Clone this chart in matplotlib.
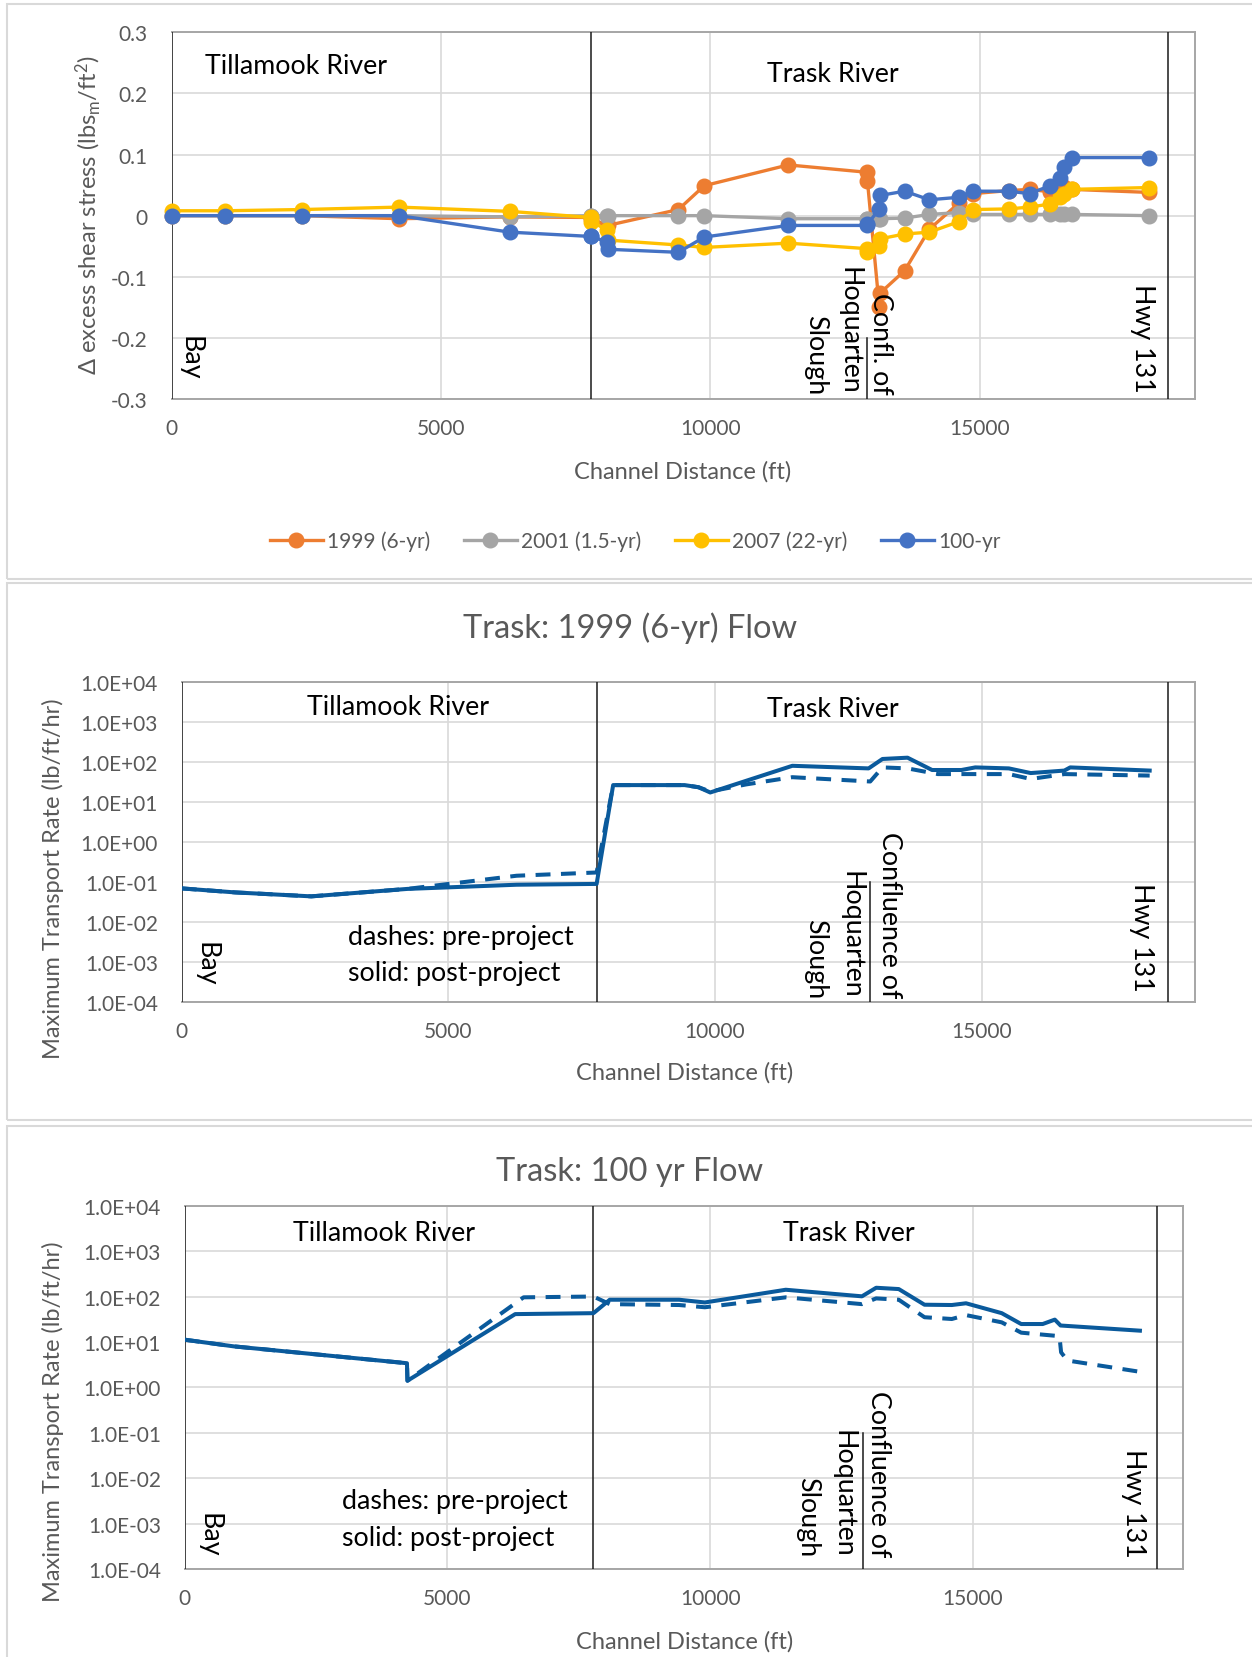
import matplotlib
matplotlib.use('Agg')
import matplotlib.pyplot as plt
from matplotlib.patches import Rectangle
import numpy as np

FONT = ['Lato', 'DejaVu Sans']
plt.rcParams['font.family'] = FONT
plt.rcParams['mathtext.fontset'] = 'custom'
plt.rcParams['mathtext.rm'] = 'Lato'
plt.rcParams['mathtext.it'] = 'Lato:italic'
plt.rcParams['mathtext.default'] = 'regular'

# ---------------- data ----------------
x_ticks = [0, 5000, 10000, 15000]
x_tick_labels = ['0', '5000', '10000', '15000']
x_max = 19000
x_bay = 0
x_div = 7780          # Tillamook / Trask boundary
x_confl = 12910       # confluence of Hoquarten Slough
x_hwy = 18500         # Hwy 131

# Panel 1: change in excess shear stress
p1_x = [0, 1000, 2430, 4230, 6280, 7780, 7790, 8090, 8100, 9410, 9890, 11450, 12910, 12920,
        13140, 13150, 13610, 14070, 14610, 14880, 15540, 15930, 16310, 16490, 16570, 16710, 18150]
p1_1999 = [0, 0, 0, -0.005, -0.002, -0.003, -0.005, -0.016, -0.016, 0.010, 0.049, 0.083, 0.071, 0.056,
           -0.150, -0.127, -0.090, -0.022, 0.020, 0.036, 0.041, 0.043, 0.039, 0.045, 0.047, 0.043, 0.038]
p1_2001 = [0, 0, 0, 0, -0.002, 0, 0, 0, 0, 0, 0, -0.005, -0.005, -0.005,
           -0.005, -0.005, -0.004, 0.002, 0.005, 0.002, 0.002, 0.002, 0.002, 0.002, 0.002, 0.002, 0]
p1_2007 = [0.008, 0.008, 0.010, 0.014, 0.007, -0.003, -0.010, -0.023, -0.040, -0.048, -0.052, -0.045, -0.054, -0.060,
           -0.049, -0.038, -0.030, -0.027, -0.010, 0.010, 0.011, 0.014, 0.019, 0.030, 0.035, 0.043, 0.046]
p1_100 = [0, 0, 0, 0, -0.027, -0.034, -0.034, -0.043, -0.055, -0.060, -0.035, -0.016, -0.016, -0.014,
          0.011, 0.033, 0.040, 0.026, 0.030, 0.040, 0.040, 0.036, 0.049, 0.061, 0.079, 0.095, 0.095]
p1_labels = ['1999 (6-yr)', '2001 (1.5-yr)', '2007 (22-yr)', '100-yr']
p1_colors = ['#ED7D31', '#A5A5A5', '#FFC000', '#4472C4']
p1_yticks = [-0.3, -0.2, -0.1, 0, 0.1, 0.2, 0.3]
p1_ytick_labels = ['-0.3', '-0.2', '-0.1', '0', '0.1', '0.2', '0.3']

# Panel 2: 1999 (6-yr) flow transport rate
p2_post_x = [0, 1000, 2430, 4230, 6280, 7780, 8090, 9430, 9690, 9910, 11450, 12880, 13140, 13610,
             14070, 14620, 14880, 15510, 15920, 16550, 16660, 18150]
p2_post = [0.068, 0.054, 0.043, 0.066, 0.084, 0.088, 26, 26, 23, 17, 79, 68, 117, 126,
           62, 62, 72, 68, 52, 60, 72, 60]
p2_pre_x = [0, 1000, 2430, 4230, 6280, 7780, 8090, 9430, 9690, 9910, 10580, 11450, 12910, 13140,
            13610, 14180, 14880, 15510, 15920, 16550, 18150]
p2_pre = [0.068, 0.054, 0.043, 0.066, 0.141, 0.17, 26, 26, 23, 18, 27, 41, 32, 72,
          68, 49, 49, 49, 37, 49, 45]

# Panel 3: 100 yr flow transport rate
p3_post_x = [0, 930, 4230, 4240, 6290, 7780, 8090, 9410, 9900, 11440, 12890, 13160, 13590, 14080,
             14600, 14870, 15550, 15920, 16330, 16560, 16670, 18180]
p3_post = [11.2, 8.0, 3.4, 1.4, 41, 43, 85, 85, 74, 141, 101, 156, 146, 66,
           65, 71, 43, 24.8, 24.8, 31, 23, 17.7]
p3_pre_x = [0, 930, 4230, 4240, 6450, 7780, 8090, 9410, 9900, 11440, 12890, 13160, 13590, 14080,
            14600, 14870, 15550, 15920, 16560, 16650, 16680, 16800, 18180]
p3_pre = [11.2, 8.0, 3.4, 1.4, 96, 100, 68, 65, 58, 96, 68, 91, 85, 35,
          32, 39, 27, 16, 13.7, 13, 5.9, 3.9, 2.2]

log_ticks = [1e-4, 1e-3, 1e-2, 1e-1, 1e0, 1e1, 1e2, 1e3, 1e4]

# ---------------- layout ----------------
W, H = 1252, 1658
fig = plt.figure(figsize=(W / 100, H / 100), dpi=100)

def rect(l, t, r, b):
    return [l / W, 1 - b / H, (r - l) / W, (b - t) / H]

def fx(px):
    return px / W

def fy(py):
    return 1 - py / H

FRAME = '#d9d9d9'
for (t, b) in [(5, 580), (584, 1121), (1127, 1700)]:
    fig.add_artist(Rectangle((fx(7), fy(b)), fx(W + 20), (b - t) / H, transform=fig.transFigure,
                             fill=False, ec=FRAME, lw=1.5, zorder=0))

GRAY_TXT = '#595959'
FS_TICK = 15
FS_AXL = 17
FS_ANN = 19.3
FS_TITLE = 23.5
LINE_BLUE = '#0A5A9C'
VCOL = '#1a1a1a'

def style(ax):
    ax.set_xlim(0, x_max)
    ax.set_xticks(x_ticks)
    ax.set_xticklabels(x_tick_labels)
    ax.grid(True, color='#d9d9d9', lw=1.2)
    ax.set_axisbelow(True)
    for s in ['top', 'right', 'bottom']:
        ax.spines[s].set_color('#a6a6a6')
        ax.spines[s].set_linewidth(1.4)
    ax.spines['left'].set_visible(False)
    ax.tick_params(axis='both', length=0, labelsize=FS_TICK, labelcolor=GRAY_TXT)
    ax.tick_params(axis='x', pad=14)
    ax.tick_params(axis='y', pad=17)
    for xv in [x_bay, x_div, x_hwy]:
        ax.axvline(xv, color=VCOL, lw=1.1, zorder=3)

def confl_texts(ax, xs, y_bottom, first):
    for txt, xv in zip([first, 'Hoquarten', 'Slough'], xs):
        ax.text(xv, y_bottom, txt, rotation=270, ha='center', va='bottom', fontsize=FS_ANN, zorder=6)

# ---- Panel 1 ----
ax1 = fig.add_axes(rect(171.5, 33.3, 1195, 400))
style(ax1)
ax1.set_ylim(-0.3, 0.3)
ax1.set_yticks(p1_yticks)
ax1.set_yticklabels(p1_ytick_labels)
handles = []
for ys, lab, col in zip([p1_1999, p1_2001, p1_2007, p1_100], p1_labels, p1_colors):
    ln, = ax1.plot(p1_x, ys, '-o', color=col, lw=2.4, ms=10.5, label=lab, clip_on=False, zorder=4)
    handles.append(ln)
ax1.plot([x_confl, x_confl], [-0.3, -0.2], color=VCOL, lw=1.1, zorder=3)
ax1.text(2310, 0.245, 'Tillamook River', ha='center', va='center', fontsize=FS_ANN, zorder=6)
ax1.text(12273, 0.233, 'Trask River', ha='center', va='center', fontsize=FS_ANN, zorder=6)
ax1.text(343, -0.268, 'Bay', rotation=270, ha='center', va='bottom', fontsize=FS_ANN, zorder=6)
ax1.text(18025, -0.288, 'Hwy 131', rotation=270, ha='center', va='bottom', fontsize=FS_ANN, zorder=6)
confl_texts(ax1, [13163, 12570, 11957], -0.292, 'Confl. of')
fig.text(fx(88), fy(215), 'Δ excess shear stress (lbs$_{m}$/ft$^{2}$)', rotation=90,
         ha='center', va='center', fontsize=FS_AXL, color=GRAY_TXT)
fig.text(fx(683), fy(471.7), 'Channel Distance (ft)', ha='center', va='center',
         fontsize=FS_AXL, color=GRAY_TXT)
leg = fig.legend(handles=handles, loc='center', bbox_to_anchor=(fx(635), fy(542)), ncol=4,
                 frameon=False, fontsize=FS_TICK, handlelength=2.55, handletextpad=0.2,
                 columnspacing=1.6)
for t in leg.get_texts():
    t.set_color(GRAY_TXT)

# ---- log panels ----
def log_panel(rect_px, post_x, post, pre_x, pre, title, title_y, xl_y, yl_x, yl_y, ann, confl):
    ax = fig.add_axes(rect(*rect_px))
    style(ax)
    ax.set_yscale('log')
    ax.set_ylim(1e-4, 1e4)
    ax.set_yticks(log_ticks)
    ax.set_yticklabels(['{:.1E}'.format(v) for v in log_ticks])
    ax.minorticks_off()
    ax.plot(pre_x, pre, color=LINE_BLUE, lw=2.9, ls=(0, (3.7, 2.6)), zorder=4)
    ax.plot(post_x, post, color=LINE_BLUE, lw=2.9, zorder=5)
    ax.plot([x_confl, x_confl], [1e-4, 1e-1], color=VCOL, lw=1.1, zorder=3)
    for (txt, x, y, kw) in ann:
        ax.text(x, y, txt, fontsize=FS_ANN, zorder=6, **kw)
    confl_texts(ax, confl[0], confl[1], 'Confluence of')
    fig.text(fx(630), fy(title_y), title, ha='center', va='center', fontsize=FS_TITLE, color=GRAY_TXT)
    fig.text(fx(685), fy(xl_y), 'Channel Distance (ft)', ha='center', va='center',
             fontsize=FS_AXL, color=GRAY_TXT)
    fig.text(fx(yl_x), fy(yl_y), 'Maximum Transport Rate (lb/ft/hr)', rotation=90,
             ha='center', va='center', fontsize=FS_AXL, color=GRAY_TXT)
    return ax

rot = dict(rotation=270, ha='center', va='bottom')
ann2 = [
    ('Tillamook River', 4056, 2331, dict(ha='center', va='center')),
    ('Trask River', 12210, 2188, dict(ha='center', va='center')),
    ('Bay', 456, 2.5e-4, rot),
    ('Hwy 131', 17988, 1.9e-4, rot),
    ('dashes: pre-project', 3120, 4.2e-3, dict(ha='left', va='center')),
    ('solid: post-project', 3120, 5.5e-4, dict(ha='left', va='center')),
]
log_panel((181.7, 682.7, 1195, 1002.7), p2_post_x, p2_post, p2_pre_x, p2_pre,
          'Trask: 1999 (6-yr) Flow', 628, 1073, 53, 879, ann2,
          ([13263, 12550, 11894], 1.25e-4))

ann3 = [
    ('Tillamook River', 3795, 2630, dict(ha='center', va='center')),
    ('Trask River', 12649, 2630, dict(ha='center', va='center')),
    ('Bay', 453, 1.85e-4, rot),
    ('Hwy 131', 18056, 1.9e-4, rot),
    ('dashes: pre-project', 2995, 3.2e-3, dict(ha='left', va='center')),
    ('solid: post-project', 2995, 5.0e-4, dict(ha='left', va='center')),
]
log_panel((184.7, 1206.7, 1183, 1570), p3_post_x, p3_post, p3_pre_x, p3_pre,
          'Trask: 100 yr Flow', 1171.7, 1641.7, 53, 1422, ann3,
          ([13201, 12534, 11849], 1.9e-4))

fig.savefig('out.png', dpi=100)
